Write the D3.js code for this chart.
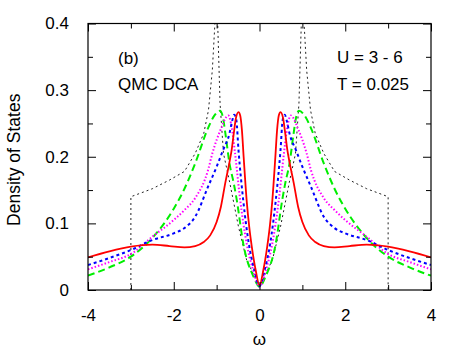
<!DOCTYPE html>
<html>
<head>
<meta charset="utf-8">
<script src="https://cdn.jsdelivr.net/npm/d3@7"></script>
<style>
  body { margin: 0; background: #fff; }
  text { font-family: "Liberation Sans", Arial, Helvetica, sans-serif; }
</style>
</head>
<body>
<div id="chart"></div>
<script>
// omega <= 0 half of each curve (curves are symmetric in omega)
const redHalf = [[-4,0.049],[-3.5,0.058],[-3,0.065],[-2.5,0.068],[-2.1,0.066],[-1.75,0.064],[-1.5,0.066],
  [-1.3,0.072],[-1.15,0.082],[-1.0,0.102],[-0.9,0.125],[-0.8,0.16],[-0.7,0.192],[-0.65,0.21],[-0.6,0.235],
  [-0.55,0.258],[-0.49,0.267],[-0.45,0.262],[-0.41,0.24],[-0.37,0.2],[-0.3,0.135],[-0.24,0.095],
  [-0.18,0.065],[-0.09,0.03],[0,0.007]];
const blueHalf = [[-4,0.0375],[-3.5,0.048],[-3,0.06],[-2.5,0.075],[-2,0.085],[-1.75,0.093],[-1.5,0.11],
  [-1.2,0.155],[-1.0,0.185],[-0.85,0.21],[-0.7,0.235],[-0.64,0.253],[-0.59,0.263],[-0.54,0.255],
  [-0.49,0.21],[-0.38,0.135],[-0.25,0.07],[-0.12,0.03],[0,0.006]];
const magentaHalf = [[-4,0.031],[-3.5,0.042],[-3,0.054],[-2.5,0.08],[-2,0.105],[-1.75,0.12],[-1.5,0.138],
  [-1.2,0.18],[-1.1,0.205],[-0.88,0.245],[-0.8,0.257],[-0.73,0.262],[-0.65,0.245],[-0.57,0.205],
  [-0.45,0.135],[-0.3,0.07],[-0.15,0.03],[0,0.005]];
const greenHalf = [[-4,0.0215],[-3.5,0.034],[-3,0.05],[-2.5,0.078],[-2,0.122],[-1.75,0.152],[-1.5,0.19],
  [-1.2,0.243],[-1.05,0.262],[-0.92,0.269],[-0.85,0.258],[-0.8,0.237],[-0.7,0.19],[-0.6,0.16],
  [-0.53,0.135],[-0.38,0.07],[-0.14,0.02],[0,0.005]];
const blackHalf = [[-3,0],[-3,0.14],[-2.5,0.152],[-2.1,0.165],[-1.75,0.178],[-1.5,0.205],[-1.3,0.235],
  [-1.19,0.27],[-1.1,0.33],[-1.04,0.4],[-1.0,0.6],[-0.975,0.4],[-0.92,0.28],[-0.84,0.205],
  [-0.69,0.16],[-0.49,0.095],[-0.3,0.045],[0,0.005]];

const xMajor = [-4, -2, 0, 2, 4];
const xLabels = ["-4", "-2", "0", "2", "4"];
const xMinor = [-3, -1, 1, 3];
const yMajor = [0, 0.1, 0.2, 0.3, 0.4];
const yMinor = [0.05, 0.15, 0.25, 0.35];
const yLabels = ["0", "0.1", "0.2", "0.3", "0.4"];

function mirror(half) {
  let right = half.filter(d => d[0] < 0).map(d => [-d[0], d[1]]).reverse();
  return half.concat(right);
}

const series = [
  {name: "black", data: mirror(blackHalf), color: "#222", width: 1, dash: "2,3", curve: d3.curveLinear},
  {name: "green", data: mirror(greenHalf), color: "#00ee00", width: 2, dash: "7,4", curve: d3.curveMonotoneX},
  {name: "magenta", data: mirror(magentaHalf), color: "#ff00ff", width: 2, dash: "1.5,2", curve: d3.curveMonotoneX},
  {name: "blue", data: mirror(blueHalf), color: "#0000ff", width: 2, dash: "3,3", curve: d3.curveMonotoneX},
  {name: "red", data: mirror(redHalf), color: "#ff0000", width: 1.8, dash: null, curve: d3.curveMonotoneX}
];

const width = 463, height = 354;
const mLeft = 88, mRight = 431, mTop = 23.5, mBottom = 290;

let svg = d3.select("#chart")
  .append("svg")
  .attr("width", width)
  .attr("height", height);

let x = d3.scaleLinear().domain([-4, 4]).range([mLeft, mRight]);
let y = d3.scaleLinear().domain([0, 0.4]).range([mBottom, mTop]);

svg.append("clipPath")
  .attr("id", "plotClip")
  .append("rect")
  .attr("x", mLeft).attr("y", mTop)
  .attr("width", mRight - mLeft).attr("height", mBottom - mTop);

// curves
let curves = svg.append("g").attr("clip-path", "url(#plotClip)");
series.forEach(s => {
  let line = d3.line()
    .x(d => x(d[0]))
    .y(d => y(d[1]))
    .curve(s.curve);
  curves.append("path")
    .datum(s.data)
    .attr("fill", "none")
    .attr("stroke", s.color)
    .attr("stroke-width", s.width)
    .attr("stroke-dasharray", s.dash)
    .attr("d", line);
});

// axes: gnuplot style, ticks inward on all four sides
let fmtY = d => yLabels[yMajor.indexOf(d)];
let fmtX = d => xLabels[xMajor.indexOf(d)];
let axes = [
  {ax: d3.axisBottom(x), pos: `translate(0,${mBottom})`, major: xMajor, minor: xMinor, labels: true},
  {ax: d3.axisTop(x), pos: `translate(0,${mTop})`, major: xMajor, minor: xMinor, labels: false},
  {ax: d3.axisLeft(y), pos: `translate(${mLeft},0)`, major: yMajor, minor: yMinor, labels: true},
  {ax: d3.axisRight(y), pos: `translate(${mRight},0)`, major: yMajor, minor: yMinor, labels: false}
];
axes.forEach(a => {
  let isY = a.major === yMajor;
  let g = svg.append("g").attr("transform", a.pos);
  g.call(a.ax.tickValues(a.major).tickSizeInner(-8).tickSizeOuter(0).tickPadding(a.labels ? 19 : 0)
    .tickFormat(a.labels ? (isY ? fmtY : fmtX) : ""));
  g.select(".domain").remove();
  g.selectAll("text").attr("font-size", "17px").attr("fill", "#000");
  g.selectAll("line").attr("stroke", "#000");
  let gm = svg.append("g").attr("transform", a.pos);
  gm.call(a.ax.tickValues(a.minor).tickSizeInner(-5).tickFormat(""));
  gm.select(".domain").remove();
  gm.selectAll("line").attr("stroke", "#000");
});
svg.selectAll(".tick text").attr("font-family", "Liberation Sans, Arial, sans-serif");

// frame
svg.append("rect")
  .attr("x", mLeft).attr("y", mTop)
  .attr("width", mRight - mLeft).attr("height", mBottom - mTop)
  .attr("fill", "none")
  .attr("stroke", "#000")
  .attr("stroke-width", 1.2);

// labels
svg.append("text")
  .attr("x", (mLeft + mRight) / 2).attr("y", 345)
  .attr("text-anchor", "middle")
  .attr("font-size", "17px")
  .text("ω");

svg.append("text")
  .attr("transform", `translate(20,${(mTop + mBottom) / 2 + 3}) rotate(-90)`)
  .attr("text-anchor", "middle")
  .attr("font-size", "17.5px")
  .text("Density of States");

let notes = [
  {t: "(b)", x: 118, y: 64},
  {t: "QMC DCA", x: 118, y: 90},
  {t: "U = 3 - 6", x: 337, y: 63},
  {t: "T = 0.025", x: 337, y: 90}
];
svg.selectAll(".note")
  .data(notes)
  .enter()
  .append("text")
  .attr("class", "note")
  .attr("x", d => d.x).attr("y", d => d.y)
  .attr("font-size", "17px")
  .text(d => d.t);
</script>
</body>
</html>
